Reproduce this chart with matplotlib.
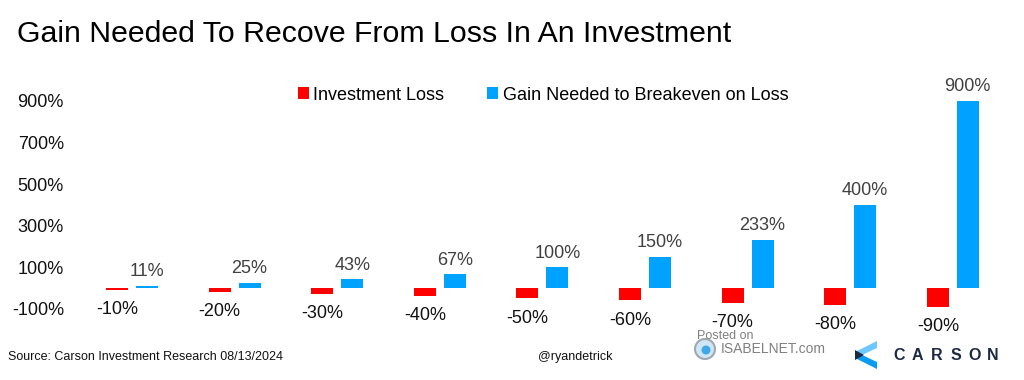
import matplotlib
matplotlib.use("Agg")
import matplotlib.pyplot as plt
from matplotlib.patches import Polygon, Ellipse
import numpy as np

plt.rcParams['font.family'] = ['Liberation Sans', 'DejaVu Sans']

categories = ["-10%", "-20%", "-30%", "-40%", "-50%", "-60%", "-70%", "-80%", "-90%"]
loss = [-10, -20, -30, -40, -50, -60, -70, -80, -90]
gain = [11, 25, 43, 67, 100, 150, 233, 400, 900]
gain_labels = ["11%", "25%", "43%", "67%", "100%", "150%", "233%", "400%", "900%"]
yticks = [-100, 100, 300, 500, 700, 900]

RED = "#FF0000"
BLUE = "#00A2FF"

W, H = 1024, 380
fig = plt.figure(figsize=(W / 100, H / 100), dpi=100)

ax_left, ax_right, ax_top, ax_bot = 75, 1010, 75, 330
ax = fig.add_axes([ax_left / W, 1 - ax_bot / H, (ax_right - ax_left) / W, (ax_bot - ax_top) / H])

x = np.arange(len(categories))
off = 0.146
bw = 0.215
bl = ax.bar(x - off, loss, bw, color=RED, label="Investment Loss")
bg = ax.bar(x + off, gain, bw, color=BLUE, label="Gain Needed to Breakeven on Loss")

for xi, v, lab in zip(x, loss, categories):
    ax.annotate(lab, (xi - off, v), xytext=(0, -8), textcoords="offset points",
                ha="center", va="top", fontsize=13, color="#111111")
for xi, v, lab in zip(x, gain, gain_labels):
    ax.annotate(lab, (xi + off, v), xytext=(0, 4), textcoords="offset points",
                ha="center", va="bottom", fontsize=13, color="#404040")

px = 102.6
ax.set_xlim((ax_left - 132) / px, (ax_right - 132) / px)
sc = 0.208
ax.set_ylim(-(ax_bot - 288) / sc, (288 - ax_top) / sc)
ax.set_yticks(yticks)
ax.set_yticklabels([f"{t}%" for t in yticks], fontsize=13, color="#111111")
ax.set_xticks([])
ax.tick_params(axis="y", length=0, pad=8)
for s in ax.spines.values():
    s.set_visible(False)

fig.legend(handles=[bl, bg], loc="center", bbox_to_anchor=(543 / W, 1 - 95 / H),
           ncol=2, frameon=False, fontsize=13, handlelength=0.6, handleheight=0.6,
           handletextpad=0.25, columnspacing=2.4, borderaxespad=0)

fig.text(17 / W, 1 - 34 / H, "Gain Needed To Recove From Loss In An Investment",
         fontsize=21.8, ha="left", va="center", color="#000000")
fig.text(8 / W, 1 - 357 / H, "Source: Carson Investment Research 08/13/2024",
         fontsize=9, ha="left", va="center", color="#111111")
fig.text(575 / W, 1 - 357 / H, "@ryandetrick", fontsize=9, ha="center", va="center",
         color="#111111")

# Isabelnet watermark
fig.text(697 / W, 1 - 336 / H, "Posted on", fontsize=9, ha="left", va="center", color="#808080")
fig.text(721 / W, 1 - 349 / H, "ISABELNET.com", fontsize=10, ha="left", va="center", color="#808080")
fig.patches.append(Ellipse((705 / W, 1 - 349 / H), 20 / W, 20 / H, transform=fig.transFigure,
                           facecolor="#CFE6F5", edgecolor="#A0A8B0", lw=1.5))
fig.patches.append(Ellipse((706 / W, 1 - 350 / H), 9 / W, 9 / H, transform=fig.transFigure,
                           facecolor="#3FA8E8", edgecolor="none"))

# Carson logo
def fp(pts):
    return [(a / W, 1 - b / H) for a, b in pts]
fig.patches.append(Polygon(fp([(877, 341), (855, 352), (862, 355), (877, 348)]),
                           closed=True, transform=fig.transFigure, facecolor="#6CC8FF", edgecolor="none"))
fig.patches.append(Polygon(fp([(855, 358), (877, 369), (877, 362), (862, 355)]),
                           closed=True, transform=fig.transFigure, facecolor="#0A9CF0", edgecolor="none"))
fig.patches.append(Polygon(fp([(855, 350), (855, 360), (864, 355)]),
                           closed=True, transform=fig.transFigure, facecolor="#1B2A44", edgecolor="none"))
for i, ch in enumerate("CARSON"):
    fig.text((899 + i * 18.8) / W, 1 - 355 / H, ch, fontsize=11.5, ha="center", va="center",
             color="#1B2A44", fontweight="bold")

fig.savefig("out.png", dpi=100)
